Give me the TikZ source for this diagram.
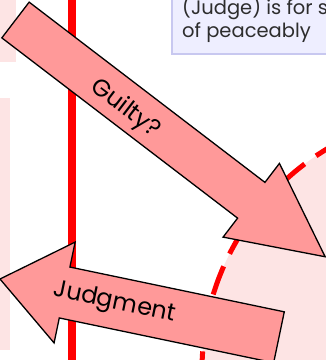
\documentclass[tikz,border=0pt]{standalone}
\usepackage{fontspec}
\setmainfont{Poppins}
\usepackage{tikz}
\usetikzlibrary{calc}

\definecolor{arrowpink}{RGB}{255,153,153}
\definecolor{gridpink}{RGB}{253,228,228}
\definecolor{boxblue}{RGB}{238,238,255}
\definecolor{boxline}{RGB}{200,200,240}
\definecolor{textgray}{RGB}{45,45,45}

\begin{document}
\begin{tikzpicture}[x=1pt, y=-1pt,
    blockarrow/.style={fill=arrowpink, draw=black, line width=1.3pt, line join=miter},
    pinkzone/.style={fill=gridpink},
    arrowtext/.style={font=\fontsize{24}{24}\selectfont, text=black, transform shape, inner sep=0pt},
    boxtext/.style={font=\fontsize{19.5}{19.5}\selectfont, text=textgray, anchor=base west, inner sep=0pt}]
    \useasboundingbox (0,0) rectangle (326,360);
    \clip (0,0) rectangle (326,360);
    % faint pink zones
    \fill[pinkzone] (0,0) rectangle (16,62);
    \fill[pinkzone] (0,98) rectangle (10,350);
    \fill[pinkzone] (460,370) circle (258pt);
    \draw[red, line width=5pt, dash pattern=on 30pt off 14pt] (460,370) circle (258pt);
    % time line
    \draw[red, line width=7.5pt] (72,-5) -- (72,365);
    % note box
    \draw[boxline, fill=boxblue, line width=2pt] (172,-10) rectangle (340,54);
    \node[boxtext] (note1) at (182,14) {(Judge) is for s};
    \node[boxtext] (note2) at (182,37) {of peaceably};
    % question arrow
    \begin{scope}[shift={(15.5,20)}, rotate=-37.4]
        \draw[blockarrow] (0,-22.5) -- (296.8,-22.5) -- (296.8,-46.4) -- (389.8,0)
            -- (296.8,46.4) -- (296.8,22.5) -- (0,22.5) -- cycle;
        \node[arrowtext] (guilty) at (141,4) {Guilty?};
    \end{scope}
    % answer arrow
    \begin{scope}[shift={(0,279)}, rotate=-11.8]
        \draw[blockarrow] (0,0) -- (66,-51.5) -- (66,-26) -- (285,-26)
            -- (285,26) -- (66,26) -- (66,51.5) -- cycle;
        \node[arrowtext] (judgment) at (117,0) {Judgment};
    \end{scope}
\end{tikzpicture}
\end{document}
